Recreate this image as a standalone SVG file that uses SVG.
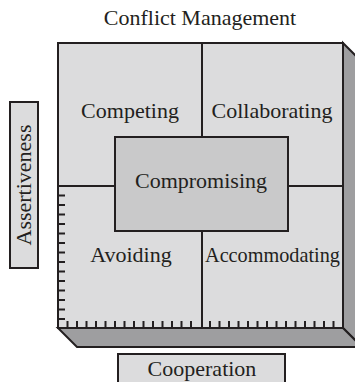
<svg xmlns="http://www.w3.org/2000/svg" width="355" height="382" viewBox="0 0 355 382">
<style>
.t{font-family:"Liberation Serif","Times New Roman",serif;font-size:22px;fill:#231f20;text-anchor:middle}
.ln{stroke:#231f20;stroke-width:2;fill:none}
.face{fill:#dcdcdd;stroke:#231f20;stroke-width:2}
.side{fill:#9e9ea0;stroke:#231f20;stroke-width:2;stroke-linejoin:miter}
.tick{stroke:#231f20;stroke-width:2}
</style>
<rect width="355" height="382" fill="#ffffff"/>
<text id="title" class="t" x="200" y="25">Conflict Management</text>
<g id="box3d">
  <polygon class="side" points="343,43 362,62 362,347 343,328"/>
  <polygon class="side" points="58,328 343,328 362,347 77,347"/>
  <rect class="face" x="58" y="43" width="285" height="285"/>
</g>
<g id="connectors">
  <line class="ln" x1="202" y1="43" x2="202" y2="137"/>
  <line class="ln" x1="202" y1="231" x2="202" y2="328"/>
  <line class="ln" x1="58" y1="186" x2="115" y2="186"/>
  <line class="ln" x1="288" y1="186" x2="343" y2="186"/>
</g>
<g id="ticks" class="tick">
  <path d="M58,195.5h7M58,205h7M58,214.5h7M58,224h7M58,233.5h7M58,243h7M58,252.5h7M58,262h7M58,271.5h7M58,281h7M58,290.5h7M58,300h7M58,309.5h7M58,319h7"/>
  <path d="M67.5,328v-7M77,328v-7M86.5,328v-7M96,328v-7M105.5,328v-7M115,328v-7M124.5,328v-7M134,328v-7M143.5,328v-7M153,328v-7M162.5,328v-7M172,328v-7M181.5,328v-7M191,328v-7M210,328v-7M219.5,328v-7M229,328v-7M238.5,328v-7M248,328v-7M257.5,328v-7M267,328v-7M276.5,328v-7M286,328v-7M295.5,328v-7M305,328v-7M314.5,328v-7M324,328v-7M333.5,328v-7"/>
</g>
<g id="competing"><text class="t" x="130" y="118">Competing</text></g>
<g id="collaborating"><text class="t" x="272" y="118">Collaborating</text></g>
<g id="compromising">
  <rect x="115" y="137" width="173" height="94" fill="#c9c9ca" stroke="#231f20" stroke-width="2"/>
  <text class="t" x="201" y="188">Compromising</text>
</g>
<g id="avoiding"><text class="t" x="131" y="262">Avoiding</text></g>
<g id="accommodating"><text class="t" x="272.5" y="262" textLength="135" lengthAdjust="spacingAndGlyphs">Accommodating</text></g>
<g id="assertiveness">
  <rect x="10" y="102" width="28" height="166" fill="#dcdcdd" stroke="#231f20" stroke-width="2"/>
  <text class="t" transform="translate(31,185) rotate(-90)" x="0" y="0">Assertiveness</text>
</g>
<g id="cooperation">
  <rect x="118" y="354" width="167" height="40" fill="#dcdcdd" stroke="#231f20" stroke-width="2"/>
  <text class="t" x="202" y="376">Cooperation</text>
</g>
</svg>
